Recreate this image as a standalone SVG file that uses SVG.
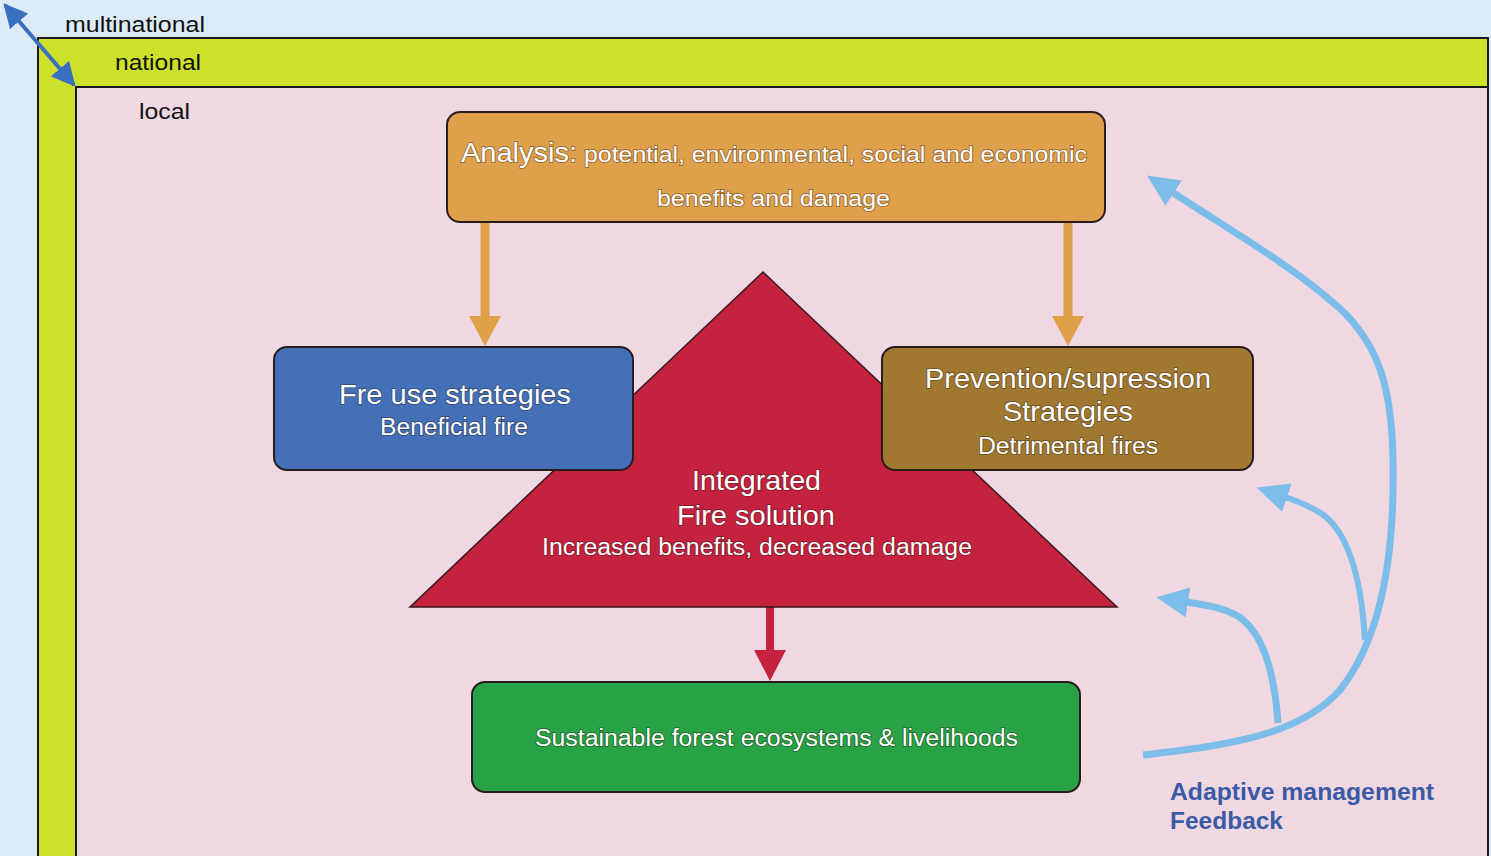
<svg xmlns="http://www.w3.org/2000/svg" width="1491" height="856" viewBox="0 0 1491 856">
<style>
.lvl{font-family:"Liberation Sans",Arial,sans-serif;font-size:22px;fill:#111;}
.wt{font-family:"Liberation Sans",Arial,sans-serif;fill:#fff;stroke:#2a1a1a;stroke-opacity:0.4;stroke-width:1.8;paint-order:stroke;}
.big{font-size:28px;}
.sm{font-size:23px;}
.box{stroke:#2a1c1c;stroke-width:2;}
.fb{fill:none;stroke:#7dbdea;stroke-linecap:butt;}
.fbt{font-family:"Liberation Sans",Arial,sans-serif;font-weight:bold;font-size:23px;fill:#3a5aa5;}
</style>
<defs>
<marker id="dbl" viewBox="0 0 20 20" refX="18" refY="10" markerWidth="24" markerHeight="24" markerUnits="userSpaceOnUse" orient="auto-start-reverse">
<path d="M0,0 L20,10 L0,20 Z" fill="#3b70c0"/>
</marker>
<marker id="fbh" viewBox="0 0 32 32" refX="2" refY="16" markerWidth="32" markerHeight="32" markerUnits="userSpaceOnUse" orient="auto">
<path d="M0,1 L32,16 L0,31 Z" fill="#7dbdea"/>
</marker>
</defs>
<g id="levels">
<rect x="0" y="0" width="1491" height="856" fill="#dcebf7"/>
<rect x="38" y="38" width="1450" height="830" fill="#cde02a" stroke="#1a1a1a" stroke-width="2"/>
<rect x="76" y="87" width="1412" height="780" fill="#f0d8e3" stroke="#1a1a1a" stroke-width="2"/>
<text class="lvl" x="65" y="32" textLength="140" lengthAdjust="spacingAndGlyphs">multinational</text>
<text class="lvl" x="115" y="70" textLength="86" lengthAdjust="spacingAndGlyphs">national</text>
<text class="lvl" x="139" y="119" textLength="51" lengthAdjust="spacingAndGlyphs">local</text>
</g>
<g id="connectors">
<line x1="5" y1="5" x2="74" y2="85" stroke="#3b70c0" stroke-width="4" marker-start="url(#dbl)" marker-end="url(#dbl)"/>
<line x1="485" y1="222" x2="485" y2="320" stroke="#e0a048" stroke-width="9"/>
<polygon points="469,316 501,316 485,346" fill="#e0a048"/>
<line x1="1068" y1="222" x2="1068" y2="320" stroke="#e0a048" stroke-width="9"/>
<polygon points="1052,316 1084,316 1068,346" fill="#e0a048"/>
<line x1="770" y1="607" x2="770" y2="654" stroke="#c4223f" stroke-width="8"/>
<polygon points="754,650 786,650 770,681" fill="#c4223f"/>
<path class="fb" stroke-width="7" d="M1143,755 C1230,745 1300,735 1340,690 C1380,640 1395,560 1393,460 C1392,390 1380,340 1330,300 C1290,265 1230,230 1172,192" marker-end="url(#fbh)"/>
<path class="fb" stroke-width="6" d="M1365,640 C1362,590 1352,535 1322,514 C1310,506 1300,502 1285,497" marker-end="url(#fbh)"/>
<path class="fb" stroke-width="7" d="M1278,723 C1275,680 1266,632 1236,615 C1220,607 1205,605 1186,602" marker-end="url(#fbh)"/>
</g>
<g id="analysis">
<rect class="box" x="447" y="112" width="658" height="110" rx="13" fill="#dea04a"/>
<text class="wt" x="461" y="162" font-size="28" textLength="116" lengthAdjust="spacingAndGlyphs">Analysis:</text>
<text class="wt" x="584" y="162" font-size="22" textLength="503" lengthAdjust="spacingAndGlyphs">potential, environmental, social and economic</text>
<text class="wt" x="657" y="206" font-size="22" textLength="233" lengthAdjust="spacingAndGlyphs">benefits and damage</text>
</g>
<g id="integrated">
<polygon points="763,272 1117,607 410,607" fill="#c4223f" stroke="#3a1a20" stroke-width="1.5"/>
<text class="wt big" x="692" y="490" textLength="129" lengthAdjust="spacingAndGlyphs">Integrated</text>
<text class="wt big" x="677" y="525" textLength="158" lengthAdjust="spacingAndGlyphs">Fire solution</text>
<text class="wt sm" x="542" y="555" textLength="430" lengthAdjust="spacingAndGlyphs">Increased benefits, decreased damage</text>
</g>
<g id="fireuse">
<rect class="box" x="274" y="347" width="359" height="123" rx="13" fill="#4470b8"/>
<text class="wt big" x="339" y="404" textLength="232" lengthAdjust="spacingAndGlyphs">Fre use strategies</text>
<text class="wt sm" x="380" y="435" textLength="148" lengthAdjust="spacingAndGlyphs">Beneficial fire</text>
</g>
<g id="prevention">
<rect class="box" x="882" y="347" width="371" height="123" rx="13" fill="#a07830"/>
<text class="wt big" x="925" y="388" textLength="286" lengthAdjust="spacingAndGlyphs">Prevention/supression</text>
<text class="wt big" x="1003" y="421" textLength="130" lengthAdjust="spacingAndGlyphs">Strategies</text>
<text class="wt sm" x="978" y="454" textLength="180" lengthAdjust="spacingAndGlyphs">Detrimental fires</text>
</g>
<g id="sustainable">
<rect class="box" x="472" y="682" width="608" height="110" rx="13" fill="#27a244"/>
<text class="wt sm" x="535" y="746" textLength="483" lengthAdjust="spacingAndGlyphs">Sustainable forest ecosystems &amp; livelihoods</text>
</g>
<g id="feedback-label">
<text class="fbt" x="1170" y="800" textLength="264" lengthAdjust="spacingAndGlyphs">Adaptive management</text>
<text class="fbt" x="1170" y="829" textLength="113" lengthAdjust="spacingAndGlyphs">Feedback</text>
</g>
</svg>
